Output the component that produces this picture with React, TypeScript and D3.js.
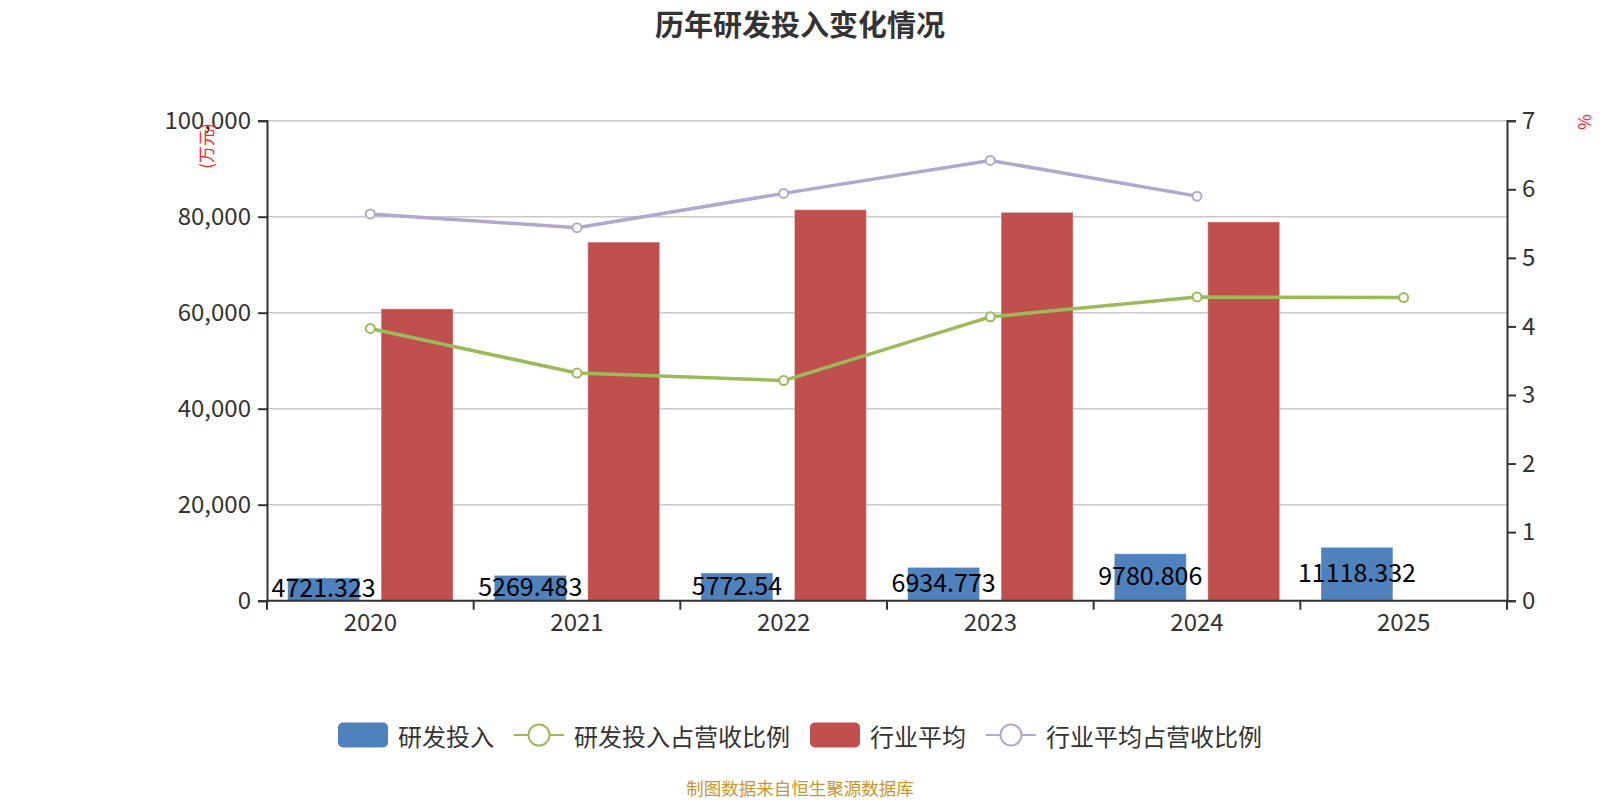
import React, { useEffect, useRef } from 'react';
import * as d3 from 'd3';

// chart data
const years = ['2020', '2021', '2022', '2023', '2024', '2025'];
const rdInvest = [4721.323, 5269.483, 5772.54, 6934.773, 9780.806, 11118.332];
const industryAvg = [60800, 74700, 81450, 80900, 78900, null];
const rdRatio = [3.97, 3.32, 3.21, 4.14, 4.43, 4.42];
const industryRatio = [5.64, 5.44, 5.94, 6.42, 5.9, null];
const leftTicks = [0, 20000, 40000, 60000, 80000, 100000];
const rightTicks = [0, 1, 2, 3, 4, 5, 6, 7];

const legendItems = [
  { name: '研发投入', type: 'bar', color: '#4F81BD' },
  { name: '研发投入占营收比例', type: 'line', color: '#9BBB59' },
  { name: '行业平均', type: 'bar', color: '#C0504D' },
  { name: '行业平均占营收比例', type: 'line', color: '#B5A6CE' },
];

const FONT = '"Noto Sans CJK SC", "Noto Sans", sans-serif';

const App = () => {
  const svgRef = useRef(null);

  useEffect(() => {
    if (!svgRef.current) return;
    const svg = d3.select(svgRef.current);
    svg.selectAll('*').remove();

    const width = 1600;
    const plot = { left: 267, right: 1507, top: 120.7, bottom: 600.7 };

    const x = d3.scaleBand().domain(years).range([plot.left, plot.right]).padding(0);
    const bw = x.bandwidth();
    // bars take 80% of the band, gap between bars 30% of bar width
    const inner = d3
      .scaleBand()
      .domain(['rd', 'avg'])
      .range([bw * 0.1, bw * 0.9])
      .paddingInner(0.3 / 1.3)
      .paddingOuter(0);
    const yL = d3.scaleLinear().domain([0, 100000]).range([plot.bottom, plot.top]);
    const yR = d3.scaleLinear().domain([0, 7]).range([plot.bottom, plot.top]);

    // title
    svg.append('text')
      .attr('x', width / 2)
      .attr('y', 23)
      .attr('text-anchor', 'middle')
      .attr('dominant-baseline', 'central')
      .style('font-family', FONT)
      .style('font-size', '29px')
      .style('font-weight', 'bold')
      .style('fill', '#333')
      .text('历年研发投入变化情况');

    // grid lines
    svg.append('g')
      .selectAll('line')
      .data(leftTicks.slice(1))
      .join('line')
      .attr('x1', plot.left)
      .attr('x2', plot.right)
      .attr('y1', (d) => yL(d))
      .attr('y2', (d) => yL(d))
      .style('stroke', '#c8c8c8')
      .style('stroke-width', 1.5);

    // bars
    const barG = svg.append('g');
    barG.selectAll('rect.rd')
      .data(rdInvest)
      .join('rect')
      .attr('class', 'rd')
      .attr('x', (d, i) => x(years[i]) + inner('rd'))
      .attr('y', (d) => yL(d))
      .attr('width', inner.bandwidth())
      .attr('height', (d) => yL(0) - yL(d))
      .style('fill', '#4F81BD')
      .style('stroke', 'rgba(255,255,255,0.35)')
      .style('stroke-width', 1);

    barG.selectAll('rect.avg')
      .data(industryAvg.map((v, i) => ({ v, i })).filter((d) => d.v != null))
      .join('rect')
      .attr('class', 'avg')
      .attr('x', (d) => x(years[d.i]) + inner('avg'))
      .attr('y', (d) => yL(d.v))
      .attr('width', inner.bandwidth())
      .attr('height', (d) => yL(0) - yL(d.v))
      .style('fill', '#C0504D')
      .style('stroke', 'rgba(255,255,255,0.35)')
      .style('stroke-width', 1);

    // axes
    const axisStyle = (g) => {
      g.select('.domain').style('stroke', '#333').style('stroke-width', 2);
      g.selectAll('.tick line').style('stroke', '#333').style('stroke-width', 2);
      g.selectAll('.tick text')
        .style('font-family', FONT)
        .style('font-size', '24px')
        .style('fill', '#333');
    };

    svg.append('g')
      .attr('transform', `translate(${plot.left},0)`)
      .call(d3.axisLeft(yL).tickValues(leftTicks).tickFormat(d3.format(',')).tickSize(9).tickPadding(7).tickSizeOuter(9))
      .call(axisStyle);

    svg.append('g')
      .attr('transform', `translate(${plot.right},0)`)
      .call(d3.axisRight(yR).tickValues(rightTicks).tickFormat(d3.format('d')).tickSize(9).tickPadding(6).tickSizeOuter(9))
      .call(axisStyle);

    const xAxis = svg.append('g')
      .attr('transform', `translate(0,${plot.bottom})`)
      .call(d3.axisBottom(x).tickSize(0).tickPadding(13))
      .call(axisStyle);
    xAxis.select('.domain').attr('d', `M${plot.left},0H${plot.right}`);
    // band boundary ticks
    xAxis.selectAll('line.bnd')
      .data(d3.range(years.length + 1))
      .join('line')
      .attr('class', 'bnd')
      .attr('x1', (i) => plot.left + i * bw)
      .attr('x2', (i) => plot.left + i * bw)
      .attr('y1', 0)
      .attr('y2', 9)
      .style('stroke', '#333')
      .style('stroke-width', 2);

    // axis names
    svg.append('text')
      .attr('transform', `translate(205,146) rotate(-90)`)
      .attr('text-anchor', 'middle')
      .attr('dominant-baseline', 'central')
      .style('font-family', FONT)
      .style('font-size', '17px')
      .style('fill', '#ff2020')
      .text('(万元)');
    svg.append('text')
      .attr('transform', `translate(1583,122) rotate(-90)`)
      .attr('text-anchor', 'middle')
      .attr('dominant-baseline', 'central')
      .style('font-family', FONT)
      .style('font-size', '17px')
      .style('fill', '#ff2020')
      .text('%');

    // lines
    const drawLine = (values, color) => {
      const pts = values.map((v, i) => ({ v, i })).filter((d) => d.v != null);
      const line = d3.line()
        .x((d) => x(years[d.i]) + bw / 2)
        .y((d) => yR(d.v));
      svg.append('path')
        .datum(pts)
        .attr('d', line)
        .style('fill', 'none')
        .style('stroke', color)
        .style('stroke-width', 3.5)
        .style('stroke-linejoin', 'round');
      svg.append('g')
        .selectAll('circle')
        .data(pts)
        .join('circle')
        .attr('cx', (d) => x(years[d.i]) + bw / 2)
        .attr('cy', (d) => yR(d.v))
        .attr('r', 4.5)
        .style('fill', '#fff')
        .style('stroke', color)
        .style('stroke-width', 2);
    };
    drawLine(industryRatio, '#B5A6CE');
    drawLine(rdRatio, '#9BBB59');

    // bar labels
    svg.append('g')
      .selectAll('text')
      .data(rdInvest)
      .join('text')
      .attr('x', (d, i) => x(years[i]) + inner('rd') + inner.bandwidth() / 2)
      .attr('y', (d) => (yL(d) + yL(0)) / 2 - 3)
      .attr('text-anchor', 'middle')
      .attr('dominant-baseline', 'central')
      .style('font-family', FONT)
      .style('font-size', '25px')
      .style('fill', '#000')
      .text((d) => String(d));

    // legend
    const iconW = 50;
    const iconH = 25;
    const fs = 24;
    const gapText = 10;
    const itemGap = 20;
    const textW = (s) => s.length * fs;
    const total = d3.sum(legendItems, (d) => iconW + gapText + textW(d.name)) + itemGap * (legendItems.length - 1);
    let lx = width / 2 - total / 2;
    const ly = 735;
    const legend = svg.append('g');
    legendItems.forEach((item) => {
      const g = legend.append('g').attr('transform', `translate(${lx},${ly})`);
      if (item.type === 'bar') {
        g.append('rect')
          .attr('x', 0)
          .attr('y', -iconH / 2)
          .attr('width', iconW)
          .attr('height', iconH)
          .attr('rx', 5)
          .style('fill', item.color);
      } else {
        g.append('line')
          .attr('x1', 0)
          .attr('x2', iconW)
          .attr('y1', 0)
          .attr('y2', 0)
          .style('stroke', item.color)
          .style('stroke-width', 2);
        g.append('circle')
          .attr('cx', iconW / 2)
          .attr('cy', 0)
          .attr('r', 10.5)
          .style('fill', '#fff')
          .style('stroke', item.color)
          .style('stroke-width', 2);
      }
      g.append('text')
        .attr('x', iconW + gapText)
        .attr('y', 0)
        .attr('dominant-baseline', 'central')
        .style('font-family', FONT)
        .style('font-size', `${fs}px`)
        .style('fill', '#333')
        .text(item.name);
      lx += iconW + gapText + textW(item.name) + itemGap;
    });

    // source note
    svg.append('text')
      .attr('x', width / 2)
      .attr('y', 787)
      .attr('text-anchor', 'middle')
      .attr('dominant-baseline', 'central')
      .style('font-family', FONT)
      .style('font-size', '17.5px')
      .style('fill', '#C9962B')
      .text('制图数据来自恒生聚源数据库');
  }, []);

  return (
    <svg
      ref={svgRef}
      width={1600}
      height={800}
      style={{ position: 'absolute', left: 0, top: 0, background: '#fff' }}
    />
  );
};

export default App;
